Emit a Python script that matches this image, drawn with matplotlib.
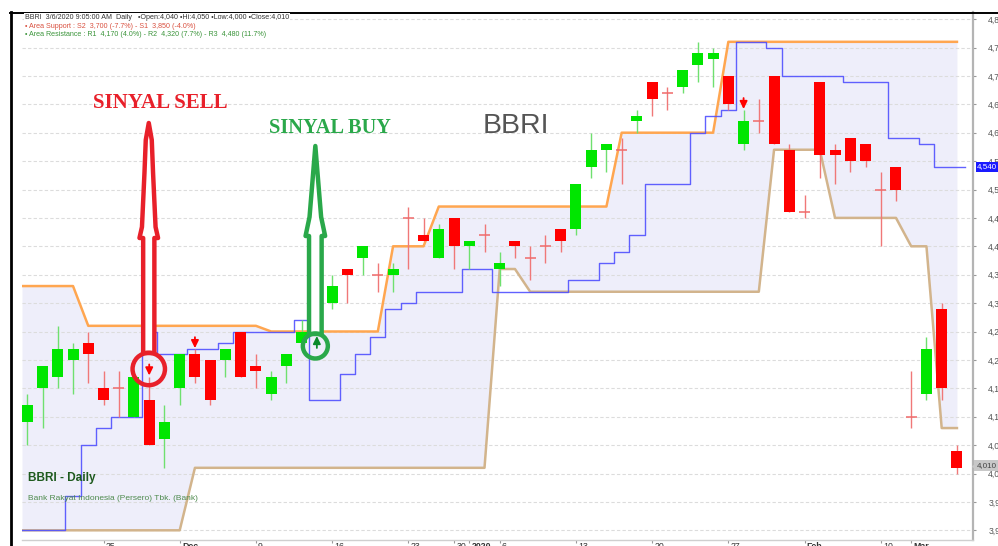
import numpy as np
import matplotlib
matplotlib.use('Agg')
import matplotlib.pyplot as plt
from matplotlib.patches import Polygon, Ellipse
from matplotlib.lines import Line2D
import matplotlib.transforms as mtransforms
from matplotlib import font_manager

# ---------------- data ----------------
opens  = [4090, 4150, 4170, 4200, 4230, 4150, 4150, 4100, 4130, 4060,
          4150, 4210, 4200, 4200, 4250, 4190, 4140, 4190, 4230, 4280,
          4300, 4360, 4380, 4350, 4350, 4450, 4420, 4380, 4450, 4400,
          4420, 4360, 4410, 4380, 4400, 4430, 4430, 4540, 4570, 4570,
          4620, 4690, 4670, 4680, 4720, 4730, 4700, 4580, 4620, 4700,
          4570, 4460, 4690, 4570, 4590, 4580, 4500, 4540, 4100, 4140,
          4290, 4040]
highs  = [4140, 4190, 4260, 4230, 4250, 4180, 4180, 4170, 4170, 4120,
          4210, 4220, 4200, 4220, 4250, 4210, 4180, 4210, 4270, 4290,
          4350, 4360, 4400, 4370, 4370, 4470, 4450, 4440, 4450, 4410,
          4440, 4390, 4410, 4400, 4420, 4430, 4510, 4600, 4580, 4590,
          4640, 4690, 4680, 4710, 4760, 4750, 4700, 4640, 4660, 4700,
          4580, 4490, 4690, 4580, 4590, 4580, 4530, 4540, 4180, 4240,
          4300, 4050]
lows   = [4050, 4080, 4150, 4140, 4160, 4120, 4100, 4100, 4050, 4010,
          4120, 4160, 4120, 4170, 4170, 4150, 4130, 4160, 4220, 4250,
          4290, 4300, 4350, 4320, 4320, 4360, 4410, 4380, 4360, 4360,
          4390, 4330, 4380, 4340, 4370, 4390, 4420, 4520, 4530, 4510,
          4600, 4630, 4640, 4670, 4690, 4680, 4640, 4570, 4600, 4580,
          4460, 4450, 4520, 4510, 4530, 4540, 4400, 4480, 4080, 4130,
          4130, 4000]
closes = [4120, 4190, 4220, 4220, 4210, 4130, 4150, 4170, 4050, 4090,
          4210, 4170, 4130, 4220, 4170, 4180, 4170, 4210, 4250, 4280,
          4330, 4350, 4400, 4350, 4360, 4450, 4410, 4430, 4400, 4410,
          4420, 4370, 4400, 4380, 4400, 4410, 4510, 4570, 4580, 4570,
          4630, 4660, 4670, 4710, 4740, 4740, 4650, 4620, 4620, 4580,
          4460, 4460, 4560, 4560, 4550, 4550, 4500, 4500, 4100, 4220,
          4150, 4010]
# resistance band (orange), support band (tan), channel line (blue)
upper_band = [4330]*4 + [4260]*12 + [4250]*8 + [4400]*3 + [4470]*12 + [4600]*7 + [4760]*16
lower_band = [3900]*11 + [4010]*20 + [4360]*2 + [4320]*16 + [4570]*4 + [4450]*5 + [4400]*2 + [4080]*2
mid_line = ([3900]*3 + [3960, 4050, 4080, 4100, 4100, 4250, 4210, 4210, 4220, 4220, 4230]
            + [4250]*4 + [4270, 4130, 4130, 4175, 4210, 4240, 4290, 4300, 4320, 4320, 4320,
               4360, 4360] + [4320]*5 + [4340, 4340, 4370, 4390, 4420, 4510, 4510, 4510,
               4600, 4630, 4640, 4760, 4760, 4750] + [4700]*4 + [4690]*3 + [4590, 4590, 4580, 4540, 4540])
xtick_idx = [5, 10, 15, 20, 25, 28, 29, 31, 36, 41, 46, 51, 56, 58]
xtick_labels = ['25', 'Dec', '9', '16', '23', '30', '2020', '6', '13', '20', '27', 'Feb', '10', 'Mar']
bold_labels = {'Dec', '2020', 'Feb', 'Mar'}
ytick_values = list(range(3900, 4801, 50))
sell_signals = [(8, 4192), (11, 4240), (47, 4661)]   # (candle, arrow top price)
buy_signals = [(19, 4221)]                           # (candle, arrow bottom price)
last_mid = 4540
last_close = 4010

header1 = "BBRI  3/6/2020 9:05:00 AM  Daily   \u2022Open:4,040 \u2022Hi:4,050 \u2022Low:4,000 \u2022Close:4,010"
header2 = "\u2022 Area Support : S2  3,700 (-7.7%) - S1  3,850 (-4.0%)"
header3 = "\u2022 Area Resistance : R1  4,170 (4.0%) - R2  4,320 (7.7%) - R3  4,480 (11.7%)"

# ---------------- fonts ----------------
def has_font(name):
    try:
        font_manager.findfont(font_manager.FontProperties(family=name), fallback_to_default=False)
        return True
    except Exception:
        return False

plt.rcParams['font.family'] = ['Liberation Sans', 'DejaVu Sans']
HAS_NARROW = has_font('Liberation Sans Narrow')
NARROW = 'Liberation Sans Narrow' if HAS_NARROW else 'Liberation Sans'
SERIF = 'Liberation Serif' if has_font('Liberation Serif') else 'DejaVu Serif'

# ---------------- layout ----------------
W, H, DPI = 998, 546, 100
fig = plt.figure(figsize=(W / DPI, H / DPI), dpi=DPI)
fig.patch.set_facecolor('white')
AX_L, AX_R, AX_T, AX_B = 22, 973, 12, 540
ax = fig.add_axes([AX_L / W, 1 - AX_B / H, (AX_R - AX_L) / W, (AX_B - AX_T) / H])
X0, DX = 27.3, 15.24      # pixel of first candle, pixels per candle
Y0, DY = 473.5, 0.568     # pixel of price 4000, pixels per price unit
xmin, xmax = (AX_L - X0) / DX, (AX_R - X0) / DX
ax.set_xlim(xmin, xmax)
ax.set_ylim(4000 - (AX_B - Y0) / DY, 4000 + (Y0 - AX_T) / DY)

def py2p(py):
    return 4000 + (Y0 - py) / DY

n = len(opens)
idx = np.arange(n)

# band fill and lines
xb = np.concatenate([[xmin], idx])
ub = np.concatenate([[upper_band[0]], upper_band])
lb = np.concatenate([[lower_band[0]], lower_band])
ax.fill_between(xb, lb, ub, color='#eeeefa', zorder=0.5, linewidth=0)
for v in ytick_values:
    ax.axhline(v, color='#dcdcdc', lw=0.8, ls=(0, (3, 2)), zorder=0.8)
ax.plot(xb, ub, color='#ffa650', lw=1.8, zorder=2)
ax.plot(xb, lb, color='#d2b48c', lw=1.8, zorder=2)
xm = np.concatenate([[xmin], idx, [n - 0.5]])
mm = np.concatenate([[mid_line[0]], mid_line, [mid_line[-1]]])
ax.plot(xm, mm, color='#5050ff', lw=1.0, drawstyle='steps-mid', zorder=2.2, alpha=0.9)

# candles
bw = 0.72
for i in range(n):
    o, h, l, c = opens[i], highs[i], lows[i], closes[i]
    up = c > o
    body_c = '#00e600' if up else '#ff0000'
    wick_c = '#6fe06f' if up else '#f07878'
    ax.vlines(i, l, h, color=wick_c, lw=1.0, zorder=3)
    if c == o:
        ax.hlines(o, i - bw / 2, i + bw / 2, color='#f06a6a', lw=1.1, zorder=3.5)
    else:
        ax.bar(i, abs(c - o), bottom=min(o, c), width=bw, color=body_c, linewidth=0, zorder=3.5)

# small signal arrows
for i, ptop in sell_signals:
    ax.annotate('', xy=(i, ptop - 11 / DY), xytext=(i, ptop),
                arrowprops=dict(arrowstyle='-|>,head_length=0.45,head_width=0.22', color='#ff0000',
                                lw=1.3, shrinkA=0, shrinkB=0), zorder=6)
for i, pbot in buy_signals:
    ax.annotate('', xy=(i, pbot + 12 / DY), xytext=(i, pbot),
                arrowprops=dict(arrowstyle='-|>,head_length=0.45,head_width=0.22', color='#0a8a2a',
                                lw=1.3, shrinkA=0, shrinkB=0), zorder=12)

# big hollow arrows + circles
def big_arrow(cx, tip_py, head, flange_py, flange_half, shaft_half, bottom_py, color):
    right = [(0, tip_py)] + head + [(flange_half, flange_py), (shaft_half, flange_py), (shaft_half, bottom_py)]
    left = [(-dx, py) for dx, py in reversed(right[1:])]
    pts = right + left
    poly = [(cx + dx / DX, py2p(py)) for dx, py in pts]
    ax.add_patch(Polygon(poly, closed=True, facecolor='white', edgecolor=color, lw=3.2,
                         joinstyle='round', zorder=10))

RED, GREEN = '#e8202a', '#2aa84a'
cx_s = sell_signals[0][0] - 0.03
big_arrow(cx_s, 123, [(3, 140), (4.3, 173), (6.8, 227)], 238, 9.3, 5.6, 353, RED)
ax.add_patch(Ellipse((cx_s, py2p(369)), 2 * 16.2 / DX, 2 * 16.2 / DY, fill=False,
                     edgecolor=RED, lw=3.2, zorder=11))
cx_b = buy_signals[0][0] - 0.1
big_arrow(cx_b, 146, [(3, 183), (5.8, 217)], 236, 9.8, 6.3, 334, GREEN)
ax.add_patch(Ellipse((cx_b, py2p(346)), 2 * 12.5 / DX, 2 * 12.5 / DY, fill=False,
                     edgecolor=GREEN, lw=3.2, zorder=11))

# axes styling
for s in ['left', 'top']:
    ax.spines[s].set_visible(False)
ax.spines['right'].set_color('#b4b4b4')
ax.spines['right'].set_linewidth(1.6)
ax.spines['bottom'].set_color('#cfcfcf')
ax.spines['bottom'].set_linewidth(1.0)
ax.yaxis.tick_right()
ax.set_yticks(ytick_values)
ax.set_yticklabels([f"{v:,}" for v in ytick_values])
ax.tick_params(axis='y', length=2.5, width=0.8, color='#999999', pad=8.5, labelsize=6.2,
               labelcolor='#555555')
ax.set_xticks(xtick_idx)
ax.set_xticklabels(xtick_labels)
ax.tick_params(axis='x', length=2.5, width=0.8, color='#999999', pad=-1.2, labelsize=6.3,
               labelcolor='#333333')
off = mtransforms.ScaledTranslation(1.6 / 72, 0, fig.dpi_scale_trans)
for lbl in ax.get_xticklabels():
    lbl.set_ha('left')
    lbl.set_transform(lbl.get_transform() + off)
    if lbl.get_text() in bold_labels:
        lbl.set_fontweight('bold')

# price boxes on right axis
btr = mtransforms.blended_transform_factory(ax.transAxes, ax.transData)
ax.text((977.3 - AX_L) / (AX_R - AX_L), last_mid, f"{last_mid:,}", transform=btr, ha='left',
        va='center', fontsize=5.8, color='white', clip_on=False, zorder=20,
        bbox=dict(boxstyle='square,pad=0.2', fc='#1a1aff', ec='none'))
ax.text((976.5 - AX_L) / (AX_R - AX_L), last_close + 4, f"{last_close:,}", transform=btr, ha='left',
        va='center', fontsize=5.8, color='#444444', clip_on=False, zorder=20,
        bbox=dict(boxstyle='square,pad=0.25', fc='#c8c8c8', ec='none'))
ax.plot([(974.5 - AX_L) / (AX_R - AX_L)], [last_close + 4], marker='<', ms=5, color='#c8c8c8',
        transform=btr, clip_on=False, zorder=19)

# texts
def fxy(px, py):
    return px / W, 1 - py / H

fig.text(*fxy(25, 17.5), header1, fontsize=5.1, va='center', ha='left', color='#333333',
         bbox=dict(fc='white', ec='none', pad=0.4), zorder=30)
fig.text(*fxy(25, 26), header2, fontsize=5.1, va='center', ha='left', color='#d9503f', zorder=30)
fig.text(*fxy(25, 34.5), header3, fontsize=5.1, va='center', ha='left', color='#3a943a', zorder=30)

fig.text(*fxy(160.5, 108), 'SINYAL SELL', ha='center', va='baseline', fontsize=15,
         fontweight='bold', family=SERIF, color=RED, zorder=30)
fig.text(*fxy(330, 132.7), 'SINYAL BUY', ha='center', va='baseline', fontsize=14.7,
         fontweight='bold', family=SERIF, color=GREEN, zorder=30)
fig.text(*fxy(516, 133), 'BBRI', ha='center', va='baseline', fontsize=23 if HAS_NARROW else 20.5,
         family=[NARROW, 'DejaVu Sans'], color='#555555', zorder=30)
fig.text(*fxy(28, 480.5), 'BBRI - Daily', ha='left', va='baseline', fontsize=8.5,
         fontweight='bold', color='#1e5a1e', zorder=30)
fig.text(*fxy(28, 500.5), 'Bank Rakyat Indonesia (Persero) Tbk. (Bank)', ha='left',
         va='baseline', fontsize=6, color='#4d8a4d', zorder=30)

# frame lines (black left and top border)
fig.add_artist(Line2D([10.5 / W, 10.5 / W], [0, 1 - 12 / H], color='black', lw=2.0))
fig.add_artist(Line2D([9.5 / W, 1], [1 - 12.5 / H, 1 - 12.5 / H], color='black', lw=1.4))

fig.savefig('out.png', dpi=DPI, facecolor='white')
